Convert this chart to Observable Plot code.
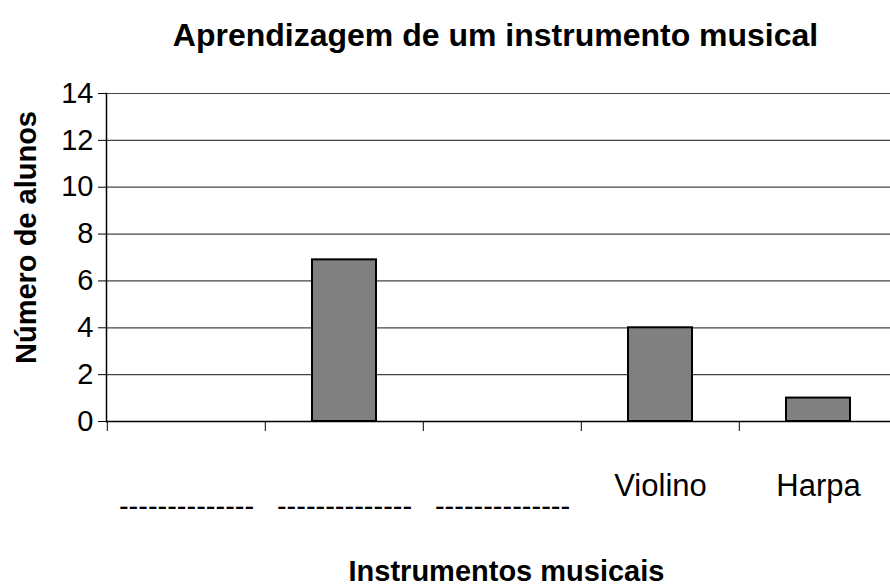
<!DOCTYPE html>
<html><head><meta charset="utf-8">
<script src="https://cdn.jsdelivr.net/npm/d3@7"></script>
<script src="https://cdn.jsdelivr.net/npm/@observablehq/plot@0.6"></script>
<style>body{margin:0;background:#fff} svg{display:block}</style>
</head><body><div id="chart"></div>
<script>
const categories = ["c1", "c2", "c3", "Violino", "Harpa"];
const values = [0, 6.9, 0, 4, 1];
const upperLabels = ["", "", "", "Violino", "Harpa"];
const lowerLabels = ["--------------", "--------------", "--------------", "", ""];
const yTicks = [0, 2, 4, 6, 8, 10, 12, 14];
const titleText = "Aprendizagem de um instrumento musical";
const yLabelText = "Número de alunos";
const xLabelText = "Instrumentos musicais";

const W = 890, H = 587, mL = 106, mR = -8, mT = 93, mB = 166;
const bw = (W - mL - mR) / categories.length;
const data = categories.map((c, i) => ({cat: c, value: values[i]}));
const font = "'Liberation Sans', Arial, Helvetica, sans-serif";
const lab = arr => d => arr[categories.indexOf(d)];

const chart = Plot.plot({
  width: W, height: H,
  marginLeft: mL, marginRight: mR, marginTop: mT, marginBottom: mB,
  style: {fontFamily: font, fontSize: "29px", color: "#000", background: "#fff"},
  x: {domain: categories, padding: 0, label: null},
  y: {domain: [0, 14], label: null},
  marks: [
    Plot.gridY(yTicks, {stroke: "#444", strokeOpacity: 1, strokeWidth: 1.2}),
    Plot.barY(data.filter(d => d.value > 0), {x: "cat", y: "value", fill: "#808080", stroke: "#000", strokeWidth: 2, insetLeft: 47, insetRight: 47}),
    Plot.ruleY([0], {stroke: "#000", strokeWidth: 1.5}),
    Plot.frame({anchor: "left", stroke: "#000", strokeWidth: 1.5}),
    Plot.axisY(yTicks, {tickSize: 8, tickPadding: 5, label: null, fontSize: 29, stroke: "#000"}),
    Plot.axisX({tickSize: 10, tickFormat: () => "", dx: -bw / 2, label: null, stroke: "#000"}),
    Plot.axisX({tickSize: 0, tickPadding: 52, tickFormat: lab(upperLabels), label: null, fontSize: 31}),
    Plot.axisX({tickSize: 0, tickPadding: 74, tickFormat: lab(lowerLabels), label: null, fontSize: 29}),
    Plot.text([titleText], {frameAnchor: "top", lineAnchor: "bottom", dy: -48, dx: -7, fontSize: 32, fontWeight: "bold"}),
    Plot.text([yLabelText], {frameAnchor: "left", textAnchor: "middle", rotate: -90, dx: -80, dy: -20, fontSize: 29, fontWeight: "bold"}),
    Plot.text([xLabelText], {frameAnchor: "bottom", lineAnchor: "bottom", dy: 159, dx: 4, fontSize: 29, fontWeight: "bold"})
  ]
});
document.getElementById("chart").appendChild(chart);
</script>
</body></html>
